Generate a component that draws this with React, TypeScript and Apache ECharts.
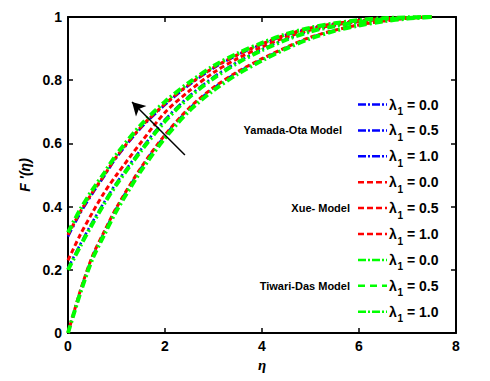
import React, { useEffect, useRef } from "react";
import * as echarts from "echarts";

// similarity variable eta (x axis)
const ETA = [0, 0.25, 0.5, 0.75, 1, 1.5, 2, 2.5, 3, 3.5, 4, 4.5, 5, 5.5, 6, 6.5, 7, 7.5];

// Yamada-Ota model (blue)
const YAMADA_L00 = [0, 0.13, 0.24, 0.32, 0.395, 0.52, 0.625, 0.71, 0.775, 0.825, 0.866, 0.903, 0.935, 0.958, 0.975, 0.987, 0.996, 1];
const YAMADA_L05 = [0.205, 0.28, 0.35, 0.415, 0.475, 0.58, 0.675, 0.75, 0.81, 0.858, 0.898, 0.93, 0.955, 0.972, 0.984, 0.992, 0.997, 1];
const YAMADA_L10 = [0.305, 0.378, 0.44, 0.497, 0.555, 0.648, 0.722, 0.785, 0.838, 0.88, 0.914, 0.943, 0.964, 0.978, 0.988, 0.995, 0.998, 1];

// Xue model (red)
const XUE_L00 = [0, 0.132, 0.242, 0.322, 0.397, 0.522, 0.627, 0.712, 0.777, 0.827, 0.868, 0.904, 0.936, 0.958, 0.975, 0.987, 0.996, 1];
const XUE_L05 = [0.23, 0.31, 0.38, 0.445, 0.5, 0.602, 0.698, 0.766, 0.824, 0.869, 0.905, 0.936, 0.959, 0.975, 0.986, 0.993, 0.998, 1];
const XUE_L10 = [0.31, 0.383, 0.444, 0.5, 0.558, 0.651, 0.725, 0.787, 0.84, 0.881, 0.915, 0.944, 0.965, 0.979, 0.989, 0.995, 0.998, 1];

// Tiwari-Das model (green)
const TIWARI_L00 = [0, 0.125, 0.233, 0.312, 0.387, 0.512, 0.617, 0.703, 0.768, 0.82, 0.862, 0.9, 0.932, 0.956, 0.973, 0.986, 0.995, 1];
const TIWARI_L05 = [0.2, 0.274, 0.344, 0.41, 0.47, 0.575, 0.67, 0.746, 0.806, 0.855, 0.895, 0.928, 0.954, 0.971, 0.984, 0.992, 0.997, 1];
const TIWARI_L10 = [0.318, 0.39, 0.452, 0.507, 0.565, 0.658, 0.732, 0.793, 0.845, 0.885, 0.918, 0.946, 0.966, 0.98, 0.99, 0.996, 0.999, 1];

const X_TICKS = [0, 2, 4, 6, 8];
const Y_TICKS = [0, 0.2, 0.4, 0.6, 0.8, 1];

const MODEL_NAMES = ["Yamada-Ota Model", "Xue- Model", "Tiwari-Das Model"];
const LAMBDA_LABELS = ["0.0", "0.5", "1.0"];

// arrow annotation (data coordinates): tail -> head
const ARROW_TAIL = [2.41, 0.563];
const ARROW_HEAD = [1.32, 0.731];

const BLUE = "#0000ff";
const RED = "#ff0000";
const GREEN = "#00ff00";

const MODEL_SERIES = [
  { color: BLUE, dash: [8, 3, 2, 3], width: 2.5, legendDash: [[8, 2, 2, 2], [8, 2, 2, 2], [8, 2, 2, 2]], data: [YAMADA_L00, YAMADA_L05, YAMADA_L10] },
  { color: RED, dash: [5, 3], width: 3, legendDash: [[6, 3], [6, 3], [6, 3]], data: [XUE_L00, XUE_L05, XUE_L10] },
  { color: GREEN, dash: [8, 3, 2, 3], width: 4, legendDash: [[8, 2, 2, 2], [7, 5], [8, 2, 2, 2]], data: [TIWARI_L00, TIWARI_L05, TIWARI_L10] },
];

const FONT = '"Liberation Sans", Arial, Helvetica, sans-serif';

export default function App() {
  const ref = useRef<HTMLDivElement>(null);
  useEffect(() => {
    if (!ref.current) return;
    const chart = echarts.init(ref.current, null, { renderer: "svg" });

    const series: any[] = [];
    MODEL_SERIES.forEach((m, mi) => {
      m.data.forEach((arr, li) => {
        series.push({
          type: "line",
          name: MODEL_NAMES[mi] + " λ1 = " + LAMBDA_LABELS[li],
          data: ETA.map((x, i) => [x, arr[i]]),
          smooth: 0.3,
          showSymbol: false,
          symbol: "none",
          z: 2 + mi,
          lineStyle: { color: m.color, width: m.width, type: m.dash },
        });
      });
    });
    series.push({
      type: "line",
      name: "arrow",
      data: [],
      silent: true,
      z: 10,
      markLine: {
        silent: true,
        symbol: ["none", "arrow"],
        symbolSize: [11, 13],
        label: { show: false },
        lineStyle: { color: "#000", width: 1.5, type: "solid" },
        data: [[{ coord: ARROW_TAIL }, { coord: ARROW_HEAD }]],
      },
    });

    const graphic: any[] = [];
    const top0 = 104.5;
    const step = 25.9;
    MODEL_SERIES.forEach((m, mi) => {
      LAMBDA_LABELS.forEach((lab, li) => {
        const idx = mi * 3 + li;
        const cy = top0 + idx * step;
        graphic.push({
          type: "line",
          shape: { x1: 358, y1: cy, x2: 387, y2: cy },
          style: { stroke: m.color, lineWidth: 2.5, lineDash: m.legendDash[li] },
        });
        graphic.push({
          type: "text", x: 389, y: cy,
          style: { text: "λ", font: "bold 14px " + FONT, fill: "#000", textAlign: "left", textVerticalAlign: "middle" },
        });
        graphic.push({
          type: "text", x: 397.5, y: cy + 7,
          style: { text: "1", font: "bold 10px " + FONT, fill: "#000", textAlign: "left", textVerticalAlign: "middle" },
        });
        graphic.push({
          type: "text", x: 407, y: cy,
          style: { text: "= " + lab, font: "bold 14px " + FONT, fill: "#000", textAlign: "left", textVerticalAlign: "middle" },
        });
      });
      const midY = top0 + (mi * 3 + 1) * step;
      graphic.push({
        type: "text", x: mi === 0 ? 342 : 350, y: midY,
        style: { text: MODEL_NAMES[mi], font: "bold 11px " + FONT, fill: "#000", textAlign: "right", textVerticalAlign: "middle" },
      });
    });

    const axisCommon = {
      axisLine: { show: true, onZero: false, lineStyle: { color: "#000", width: 2 } },
      axisTick: { show: true, inside: true, length: 5, lineStyle: { color: "#000", width: 1.5 } },
      splitLine: { show: false },
    };

    chart.setOption({
      animation: false,
      backgroundColor: "#fff",
      grid: { left: 68, right: 34, top: 17, bottom: 48, containLabel: false },
      xAxis: [
        {
          type: "value", min: 0, max: 8, interval: 2, position: "bottom",
          ...axisCommon,
          axisLabel: { show: true, margin: 6, color: "#000", fontSize: 14, fontWeight: "bold", fontFamily: FONT, customValues: X_TICKS },
          name: "η", nameLocation: "middle", nameGap: 19,
          nameTextStyle: { color: "#000", fontSize: 15, fontStyle: "italic", fontWeight: "bold", fontFamily: '"Liberation Serif", "Times New Roman", serif' },
        },
        {
          type: "value", min: 0, max: 8, interval: 2, position: "top",
          ...axisCommon, axisLabel: { show: false },
        },
      ],
      yAxis: [
        {
          type: "value", min: 0, max: 1, interval: 0.2, position: "left",
          ...axisCommon,
          axisLabel: {
            show: true, margin: 6, color: "#000", fontSize: 14, fontWeight: "bold", fontFamily: FONT,
            formatter: (v: number) => (Y_TICKS.indexOf(Math.round(v * 10) / 10) >= 0 ? String(Math.round(v * 10) / 10) : ""),
          },
          name: "F '(η)", nameLocation: "middle", nameGap: 28, nameRotate: 90,
          nameTextStyle: { color: "#000", fontSize: 14, fontStyle: "italic", fontWeight: "bold", fontFamily: FONT },
        },
        {
          type: "value", min: 0, max: 1, interval: 0.2, position: "right",
          ...axisCommon, axisLabel: { show: false },
        },
      ],
      series,
      graphic,
    });
    return () => chart.dispose();
  }, []);
  return (
    <div
      ref={ref}
      style={{ position: "fixed", left: 0, top: 0, width: 490, height: 381, background: "#fff" }}
    />
  );
}
